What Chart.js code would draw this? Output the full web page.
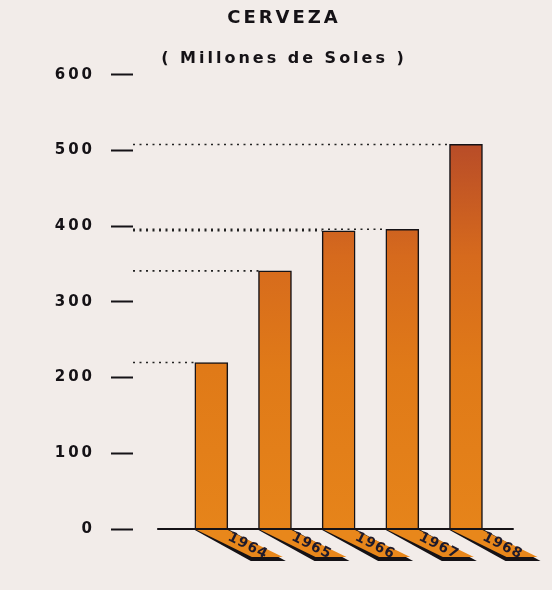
<!DOCTYPE html>
<html>
<head>
<meta charset="utf-8">
<script src="https://cdn.jsdelivr.net/npm/chart.js@4.4.1/dist/chart.umd.min.js"></script>
<style>
  html, body { margin: 0; padding: 0; background: #f2ece9; }
  #wrap { width: 552px; height: 590px; }
</style>
</head>
<body>
<div id="wrap"><canvas id="barChart"></canvas></div>
<script>
// data
const years = [1964, 1965, 1966, 1967, 1968];
const beerSales = [220, 341, 394, 396, 508];
const yTicks = [0, 100, 200, 300, 400, 500, 600];
const titleText = 'CERVEZA';
const subtitleText = '( Millones de Soles )';

const ink = '#151216';
const footDx = 55;   // slant of the little "floor" under each bar
const footDy = 28;

// paper background + wide letter spacing like the old stencil lettering
const paper = {
    id: 'paper',
    beforeUpdate(chart) {
        chart.ctx.letterSpacing = '3px';
    },
    beforeDraw(chart) {
        const c = chart.ctx;
        c.letterSpacing = '3px';
        c.save();
        c.fillStyle = '#f2ece9';
        c.fillRect(0, 0, chart.width, chart.height);
        c.restore();
    }
};

// dotted guide lines from the axis to the top of each bar
const guides = {
    id: 'guides',
    beforeDatasetsDraw(chart) {
        const c = chart.ctx;
        const area = chart.chartArea;
        const bars = chart.getDatasetMeta(0).data;
        c.save();
        c.strokeStyle = '#222';
        c.lineWidth = 1.6;
        c.setLineDash([2, 4.5]);
        bars.forEach(function (bar) {
            c.beginPath();
            c.moveTo(area.left, bar.y);
            c.lineTo(bar.x - bar.width / 2, bar.y);
            c.stroke();
        });
        c.restore();
    }
};

// base line + slanted feet with the year written on them
const feet = {
    id: 'feet',
    afterDatasetsDraw(chart) {
        const c = chart.ctx;
        const xs = chart.scales.x;
        const ys = chart.scales.y;
        const base = ys.getPixelForValue(0);
        const bars = chart.getDatasetMeta(0).data;
        c.save();
        c.strokeStyle = ink;
        c.lineWidth = 2;
        c.beginPath();
        c.moveTo(xs.getPixelForValue(years[0] - 0.85), base);
        c.lineTo(xs.getPixelForValue(years[years.length - 1] + 0.75), base);
        c.stroke();

        bars.forEach(function (bar, i) {
            const x0 = bar.x - bar.width / 2;
            const x1 = bar.x + bar.width / 2;
            // black shadow
            c.fillStyle = ink;
            c.beginPath();
            c.moveTo(x0, base + 1);
            c.lineTo(x0 + footDx + 1, base + footDy + 4);
            c.lineTo(x1 + footDx + 3, base + footDy + 4);
            c.lineTo(x1 + 2, base + 1);
            c.closePath();
            c.fill();
            // orange top
            c.fillStyle = '#e8871b';
            c.beginPath();
            c.moveTo(x0 + 2, base + 1);
            c.lineTo(x1, base + 1);
            c.lineTo(x1 + footDx, base + footDy);
            c.lineTo(x0 + footDx + 2, base + footDy);
            c.closePath();
            c.fill();
            // year
            c.save();
            c.translate(bar.x + footDx / 2 + 9, base + footDy / 2 + 3);
            c.rotate(Math.atan2(footDy, footDx));
            c.letterSpacing = '1px';
            c.fillStyle = '#1d1a2c';
            c.font = 'bold 14px "DejaVu Sans"';
            c.textAlign = 'center';
            c.textBaseline = 'middle';
            c.fillText(String(years[i]), 0, 0);
            c.restore();
        });
        c.restore();
    }
};

function barFill(context) {
    const chart = context.chart;
    const area = chart.chartArea;
    if (!area) return '#e07a18';
    const g = chart.ctx.createLinearGradient(0, area.bottom, 0, area.top);
    g.addColorStop(0, '#e6841a');
    g.addColorStop(0.35, '#e07a18');
    g.addColorStop(0.6, '#d66a1d');
    g.addColorStop(0.85, '#b84c28');
    g.addColorStop(1, '#a84028');
    return g;
}

const ctx = document.getElementById('barChart').getContext('2d');

const myChart = new Chart(ctx, {
    type: 'bar',
    data: {
        datasets: [{
            label: 'Cerveza',
            data: years.map(function (y, i) { return { x: y, y: beerSales[i] }; }),
            backgroundColor: barFill,
            borderColor: ink,
            borderWidth: { top: 1.5, left: 1.5, right: 1.5, bottom: 0 },
            barThickness: 33
        }]
    },
    options: {
        responsive: true,
        maintainAspectRatio: false,
        animation: false,
        layout: { padding: { left: 53, right: 37, top: 0, bottom: 61 } },
        plugins: {
            legend: { display: false },
            tooltip: { enabled: false },
            title: {
                display: true,
                text: titleText,
                color: ink,
                font: { family: 'DejaVu Sans', size: 18, weight: 'bold' },
                padding: { top: 8, bottom: 0 }
            },
            subtitle: {
                display: true,
                text: subtitleText,
                color: ink,
                font: { family: 'DejaVu Sans', size: 16, weight: 'bold' },
                padding: { top: 20, bottom: 6 }
            }
        },
        scales: {
            x: {
                type: 'linear',
                display: false,
                offset: false,
                min: years[0] - 1.23,
                max: years[years.length - 1] + 0.77
            },
            y: {
                min: yTicks[0],
                max: yTicks[yTicks.length - 1],
                afterBuildTicks(scale) {
                    scale.ticks = yTicks.map(function (v) { return { value: v }; });
                },
                afterFit(scale) {
                    scale.width = 80;
                },
                border: { display: false },
                grid: {
                    drawOnChartArea: false,
                    drawTicks: true,
                    tickLength: 22,
                    tickWidth: 2,
                    tickColor: ink
                },
                ticks: {
                    padding: 16,
                    color: ink,
                    font: { family: 'DejaVu Sans', size: 15, weight: 'bold' }
                }
            }
        }
    },
    plugins: [paper, guides, feet]
});
myChart.update();
</script>
</body>
</html>
